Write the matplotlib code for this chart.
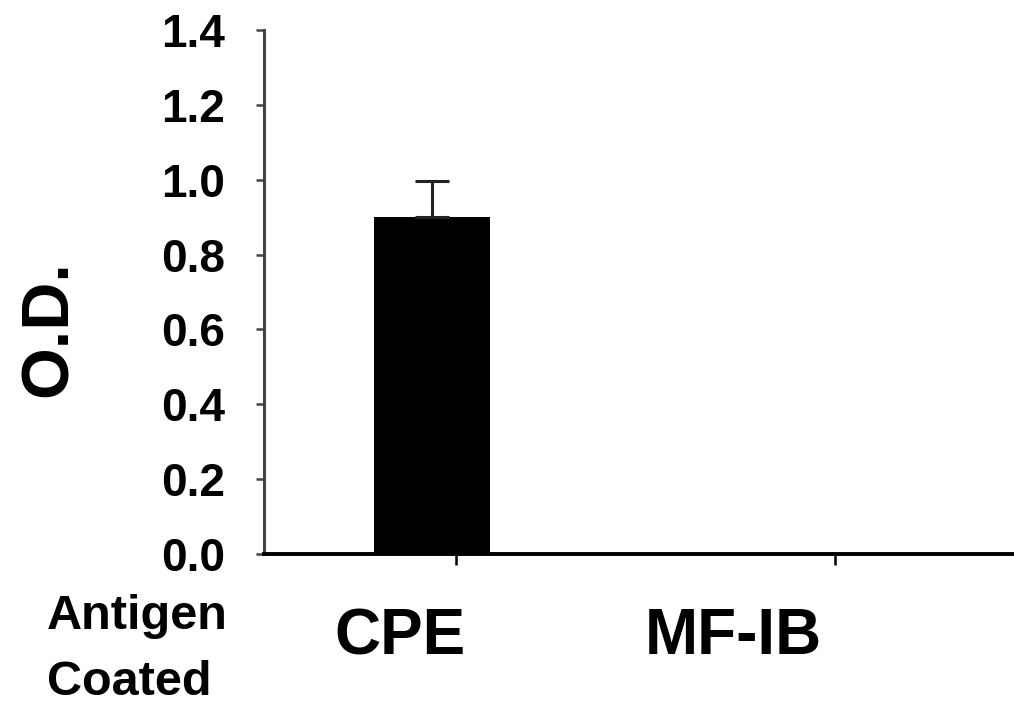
import matplotlib
matplotlib.use("Agg")
import matplotlib.pyplot as plt

categories = ["CPE", "MF-IB"]
values = [0.90, 0.0]
errors_up = [0.097, 0.0]
yticks = [0.0, 0.2, 0.4, 0.6, 0.8, 1.0, 1.2, 1.4]
ytick_labels = ["0.0", "0.2", "0.4", "0.6", "0.8", "1.0", "1.2", "1.4"]

plt.rcParams['font.family'] = ['Liberation Sans', 'DejaVu Sans']

fig = plt.figure(figsize=(10.14, 7.07), dpi=100)
ax = fig.add_axes([0.2604, 0.2164, 0.7396, 0.7412])

pos = list(range(len(categories)))
ax.bar(pos, values, width=0.306, color='black', zorder=2)
ax.errorbar(pos[:1], values[:1], yerr=[[0], [errors_up[0]]], fmt='none',
            ecolor='#222222', elinewidth=2.2, capsize=12, capthick=2.2, zorder=3)

ax.set_xlim(-0.443, 1.536)
ax.set_ylim(0, 1.4)
ax.set_yticks(yticks)
ax.set_yticklabels(ytick_labels, fontsize=33, fontweight='bold')
ax.set_xticks([p + 0.063 for p in pos])
ax.set_xticklabels([])

for s in ['top', 'right']:
    ax.spines[s].set_visible(False)
ax.spines['left'].set_linewidth(2.2)
ax.spines['left'].set_color('#444444')
ax.spines['bottom'].set_linewidth(2.8)
ax.tick_params(axis='y', direction='out', length=6, width=1.8, pad=22, colors='#444444', labelcolor='black')
ax.tick_params(axis='x', direction='out', length=8, width=1.8)

ax.set_ylabel("O.D.", fontsize=48, fontweight='bold')
ax.yaxis.set_label_coords(-0.245, 0.43)

label_x = [400 / 1014, 733 / 1014]
for lx, cat in zip(label_x, categories):
    fig.text(lx, 0.099, cat, fontsize=46, fontweight='bold', ha='center', va='center')

fig.text(47 / 1014, 0.128, "Antigen", fontsize=35, fontweight='bold', ha='left', va='center')
fig.text(47 / 1014, 0.034, "Coated", fontsize=35, fontweight='bold', ha='left', va='center')

fig.savefig("out.png", dpi=100)
